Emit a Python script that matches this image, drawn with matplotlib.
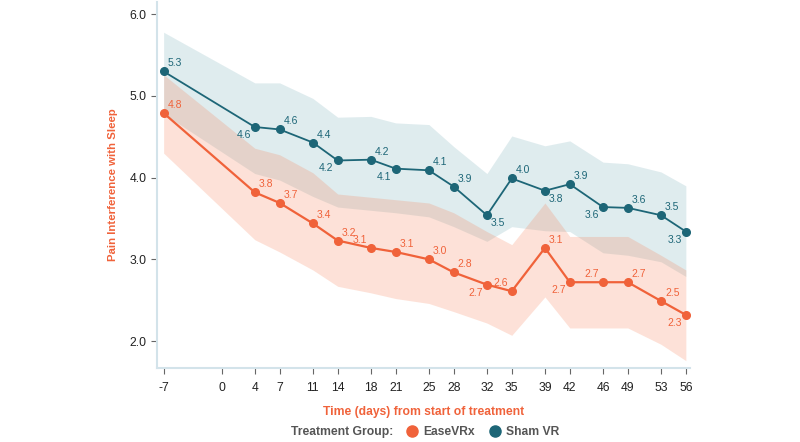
import matplotlib
matplotlib.use("Agg")
import matplotlib.pyplot as plt
from matplotlib.lines import Line2D

plt.rcParams['font.family'] = ['Liberation Sans', 'DejaVu Sans']

days = [-7, 4, 7, 11, 14, 18, 21, 25, 28, 32, 35, 39, 42, 46, 49, 53, 56]
tick_days = [-7, 0, 4, 7, 11, 14, 18, 21, 25, 28, 32, 35, 39, 42, 46, 49, 53, 56]

ease = [4.79, 3.82, 3.69, 3.44, 3.23, 3.14, 3.09, 3.00, 2.84, 2.69, 2.61, 3.14, 2.72, 2.72, 2.72, 2.49, 2.32]
ease_hi = [5.26, 4.36, 4.28, 4.06, 3.80, 3.76, 3.73, 3.69, 3.57, 3.34, 3.18, 3.69, 3.28, 3.28, 3.28, 3.05, 2.87]
ease_lo = [4.30, 3.24, 3.09, 2.87, 2.67, 2.59, 2.52, 2.46, 2.36, 2.22, 2.07, 2.54, 2.16, 2.16, 2.16, 1.96, 1.76]

sham = [5.30, 4.62, 4.59, 4.43, 4.21, 4.22, 4.11, 4.09, 3.89, 3.54, 3.99, 3.84, 3.92, 3.64, 3.63, 3.54, 3.34]
sham_hi = [5.78, 5.16, 5.16, 4.97, 4.74, 4.75, 4.67, 4.65, 4.38, 4.05, 4.51, 4.39, 4.45, 4.19, 4.17, 4.07, 3.90]
sham_lo = [4.78, 4.05, 3.97, 3.77, 3.64, 3.60, 3.57, 3.52, 3.40, 3.22, 3.40, 3.35, 3.34, 3.08, 3.05, 2.97, 2.79]

ease_pos = ['ar', 'ar', 'ar', 'ar', 'ar', 'al', 'ar', 'ar', 'ar', 'bl', 'al', 'ar', 'bl', 'al', 'ar', 'ar', 'bl']
sham_pos = ['ar', 'bl', 'ar', 'ar', 'bl', 'ar', 'bl', 'ar', 'ar', 'br', 'ar', 'br', 'ar', 'bl', 'ar', 'ar', 'bl']

ORANGE = '#F0623A'
TEAL = '#1D6677'
GRAY = '#555555'

fig = plt.figure(figsize=(8.0, 4.42), dpi=100)
ax = fig.add_axes([157/800, 1-368/442, (690-157)/800, (368-2)/442])

ax.fill_between(days, sham_lo, sham_hi, color='#3E8A9A', alpha=0.16, lw=0)
ax.fill_between(days, ease_lo, ease_hi, color='#F77A4E', alpha=0.22, lw=0)

ax.plot(days, sham, color=TEAL, lw=1.3, marker='o', ms=5.5, zorder=3)
ax.plot(days, ease, color=ORANGE, lw=1.6, marker='o', ms=5.5, zorder=3)

offs = {'ar': ((4, 3), 'left', 'bottom'),
        'al': ((-4, 3), 'right', 'bottom'),
        'bl': ((-4, -3), 'right', 'top'),
        'br': ((4, -3), 'left', 'top')}

def label(xs, ys, poss, color):
    for x, y, p in zip(xs, ys, poss):
        (dx, dy), ha, va = offs[p]
        ax.annotate(f"{y:.1f}", (x, y), xytext=(dx, dy), textcoords='offset pixels',
                    ha=ha, va=va, fontsize=7.5, color=color, zorder=4)

label(days, sham, sham_pos, TEAL)
label(days, ease, ease_pos, ORANGE)

ax.set_xlim(-7.8, 56.5)
ax.set_ylim(1.67, 6.15)
ax.set_xticks(tick_days)
ax.set_xticklabels([str(d) for d in tick_days])
ax.set_yticks([2, 3, 4, 5, 6])
ax.set_yticklabels(['2.0', '3.0', '4.0', '5.0', '6.0'])

for s in ['top', 'right']:
    ax.spines[s].set_visible(False)
for s in ['left', 'bottom']:
    ax.spines[s].set_color('#D3E3EA')
    ax.spines[s].set_linewidth(1.5)
ax.tick_params(axis='both', colors='#666666', labelcolor='#222222', labelsize=8.7, length=4, width=0.8)
ax.tick_params(axis='x', pad=6)

ax.set_ylabel('Pain Interference with Sleep', color=ORANGE, fontsize=8.2, fontweight='bold', labelpad=8)
ax.set_xlabel('Time (days) from start of treatment', color=ORANGE, fontsize=8.7, fontweight='bold', labelpad=9)

# legend
fig.text(291/800, 1-432/442, 'Treatment Group:', color=GRAY, fontsize=8.7, fontweight='bold', ha='left', va='center')
handles = [Line2D([], [], color=ORANGE, marker='o', ls='', ms=8),
           Line2D([], [], color=TEAL, marker='o', ls='', ms=8)]
fig.legend(handles, ['EaseVRx', 'Sham VR'], loc='center left', bbox_to_anchor=(406/800, 1-432/442),
           ncol=2, frameon=False, handletextpad=0.4, columnspacing=1.2,
           prop={'size': 8.7, 'weight': 'bold'}, labelcolor=GRAY, handlelength=1.0, borderaxespad=0, borderpad=0)

fig.savefig('out.png', dpi=100)
